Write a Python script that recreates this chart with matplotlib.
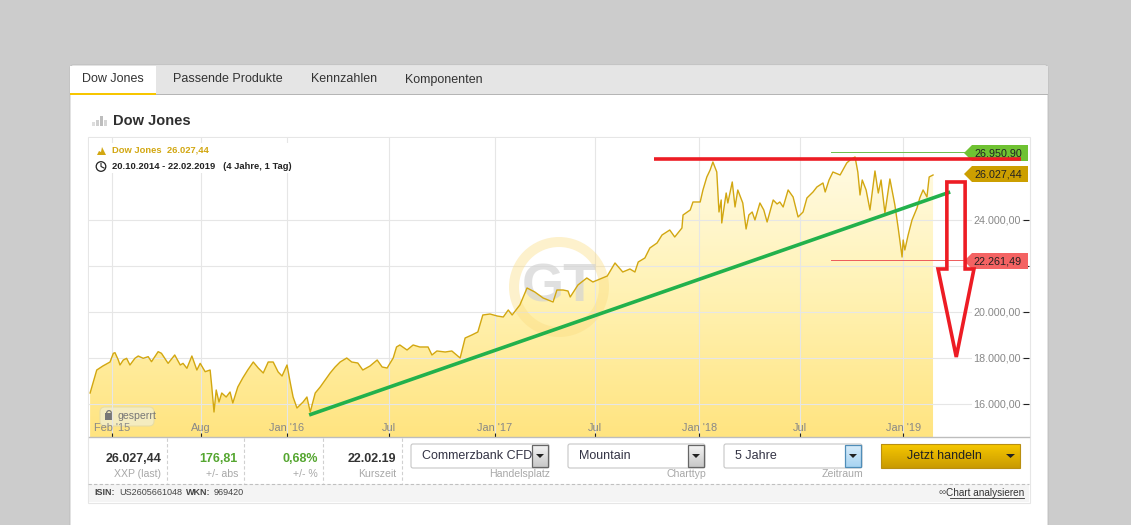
import numpy as np
import matplotlib
matplotlib.use("Agg")
import matplotlib.pyplot as plt
from matplotlib.colors import LinearSegmentedColormap
from matplotlib.patches import Rectangle, FancyBboxPatch, Polygon, Circle, Wedge

# ---------- data ----------
session_pos = [2,14,25,38,44,47,53,56,62,68,
    74,83,89,98,107,113,125,131,143,155,
    165,170,177,186,195,201,210,219,222,226,
    230,235,240,248,255,260,269,278,287,297,
    306,315,324,333,342,349,358,364,369,376,
    387,394,400,409,418,427,436,445,454,466,
    475,486,495,508,521,530,539,550,556,562,
    575,586,598,613,620,629,644,656,671,680,
    692,703,712,725,738,749,758,765,779,792,
    806,821,839,846,857,866,870,884,900,911,
    924,937,951,965,978,987,993,1005,1014,1027,
    1036,1050,1059,1072,1074,1087,1092,1105,1110,1117,
    1123,1128,1135,1139,1143,1144,1152,1155,1163,1168,
    1173,1182,1188,1193,1199,1204,1213,1220,1226,1231,
    1237,1244,1249,1255,1264,1273,1282,1291,1298,1309,
    1316,1327,1331,1338,1345,1358,1370,1376,1385,1390,
    1394,1398,1405,1412,1421,1427,1432,1439,1448,1457,
    1463,1470,1472,1475,1481,1488,1497,1502,1508,1515,
    1519,1526]
dow_close = [16478,17478,17652,17826,18204,18231,17913,17696,17913,17986,
    17696,17986,18087,17986,18058,17840,18275,18204,17768,18131,
    17696,17768,17552,18087,17478,17768,17405,17478,16753,15652,
    16609,16087,16478,16304,16522,16043,16739,17131,17478,17826,
    17565,17348,17826,17826,17391,17217,17696,16913,16304,15826,
    16087,16304,15652,16478,16739,17043,17348,17609,17826,18000,
    17826,17782,17478,17652,17913,17609,17565,18000,18479,18566,
    18348,18566,18479,18479,18131,18305,18261,18305,18000,18869,
    18999,19131,19870,19913,19826,19783,20087,19870,20305,21044,
    20870,20609,20435,20957,20957,20913,20652,21174,21479,21305,
    21435,21565,22131,21739,21870,21739,22174,22348,22783,23000,
    23348,23565,23261,23652,24217,24435,24783,24783,25305,25870,
    26174,26522,26087,24348,24870,23870,25174,24740,25653,24566,
    25305,24740,23609,24218,24348,24000,24740,24435,23913,24348,
    24870,24696,24783,24566,25305,25000,24131,24348,24957,25218,
    25435,25609,25218,25740,26087,25957,26479,26609,26740,26087,
    25087,25740,25305,24435,26131,25174,25740,24305,25783,24653,
    23652,22391,23131,22696,23348,24000,24522,24957,25305,25000,
    25870,25957]
x_tick_pos = [42,202,358,542,734,915,1103,1286,1472]
x_tick_labels = ["Feb '15","Aug","Jan '16","Jul","Jan '17","Jul","Jan '18","Jul","Jan '19"]
y_tick_vals = [16000,18000,20000,22000,24000]
y_tick_labels = ["16.000,00","18.000,00","20.000,00","","24.000,00"]
high_low_last = [26950.90, 22261.49, 26027.44]
resistance_x = [1021,1685]; resistance_y = [26653,26653]
trend_x = [398,1557]; trend_y = [15522,25218]
arrow_x = [1551,1584,1584,1600,1568,1535,1551]
arrow_y = [25653,25653,21870,21870,18044,21870,21870]

# ---------- figure ----------
plt.rcParams['font.family'] = ['Liberation Sans','DejaVu Sans']
W,H = 1131,525
fig = plt.figure(figsize=(W/100,H/100),dpi=100,facecolor='#cccccc')
bg = fig.add_axes([0,0,1,1]); bg.set_xlim(0,W); bg.set_ylim(H,0); bg.axis('off')
PT = 0.72

def rect(a,x0,y0,x1,y1,fc,ec='none',lw=0,z=1,**k):
    p = Rectangle((x0,y0),x1-x0,y1-y0,fc=fc,ec=ec,lw=lw,zorder=z,**k); a.add_patch(p); return p
def txt(x,y,s,size,color='#333333',ha='left',weight='normal',a=None,z=6,**k):
    return (a or bg).text(x,y,s,fontsize=size*PT,color=color,ha=ha,va='center',fontweight=weight,zorder=z,**k)
def grad(a,x0,y0,x1,y1,c0,c1,z=3):
    cm = LinearSegmentedColormap.from_list('g',[c0,c1])
    a.imshow(np.linspace(0,1,64).reshape(-1,1),extent=(x0,x1,y1,y0),cmap=cm,aspect='auto',zorder=z)

# panel and tabs
bg.add_patch(FancyBboxPatch((72,67),974,470,boxstyle='round,pad=2,rounding_size=3',fc='white',ec='#bbbbbb',lw=0.6,zorder=1))
rect(bg,71,66,1048,94,'#e5e5e5',z=2)
rect(bg,70,93.5,1048,94.5,'#b5b5b5',z=2)
rect(bg,70,66,156,94,'white',z=3)
rect(bg,70,92.5,156,94.5,'#f7c600',z=4)
for x,s in [(82,'Dow Jones'),(173,'Passende Produkte'),(311,'Kennzahlen'),(405,'Komponenten')]:
    txt(x,79.5,s,12.5,'#333333')
txt(113,121,'Dow Jones',14.6,'#2f2f2f',weight='bold')
for x,h,c in [(92,4,'#dddddd'),(96,6,'#cfcfcf'),(100,10,'#bdbdbd'),(104,6,'#d5d5d5')]:
    rect(bg,x,126-h,x+3,126,c,z=3)

# footer row
rect(bg,88,137,1030,503,'white',ec='#e6e6e6',lw=0.8,z=2)
rect(bg,89,484,1029,502,'#f4f4f4',z=3)
bg.plot([88,1029],[483.5,483.5],color='#c0c0c0',lw=0.8,ls=(0,(3,2)),zorder=4)
for x in [167,244,323,402]:
    bg.plot([x,x],[438,483],color='#d0d0d0',lw=0.8,ls=(0,(3,2)),zorder=4)
for x,v,l,c in [(161,'26.027,44','XXP (last)','#333333'),(238,'176,81','+/- abs','#55a630'),
                (318,'0,68%','+/- %','#55a630'),(396,'22.02.19','Kurszeit','#333333')]:
    txt(x,458.5,v,12.5,c,ha='right',weight='bold')
    txt(x,474,l,10.5,'#a8a8a8',ha='right')
for x,s,w in [(94,'ISIN:','bold'),(119,'US2605661048','normal'),(186,'WKN:','bold'),(214,'969420','normal')]:
    txt(x,492.5,s,9.0,'#444444',weight=w)
txt(1024,492.5,'Chart analysieren',10,'#333333',ha='right')
bg.plot([950,1024],[497.5,497.5],color='#333333',lw=0.6,zorder=6)
txt(942,492,'\u221e',10,'#555555',ha='center')

def select(x0,x1,s,cap,capx,c0='#f4f4f4',c1='#c8c8c8',edge='#666666'):
    bg.add_patch(FancyBboxPatch((x0+1,445),x1-x0-2,22,boxstyle='round,pad=1,rounding_size=2',fc='white',ec='#c6c6c6',lw=0.8,zorder=4))
    grad(bg,x1-17,445,x1-1,467,c0,c1,z=5)
    rect(bg,x1-17,445,x1-1,467,'none',ec=edge,lw=0.9,z=6)
    bg.add_patch(Polygon([(x1-13,454),(x1-5,454),(x1-9,458)],fc='#222222',zorder=7))
    txt(x0+11,456,s,12.5,'#333344')
    txt(capx,474,cap,10.5,'#a8a8a8',ha='right')
select(411,549,'Commerzbank CFD','Handelsplatz',550)
select(568,705,'Mountain','Charttyp',706)
select(724,862,'5 Jahre','Zeitraum',863,'#d8ecfa','#a8d4f2','#4f8db8')
grad(bg,881,444,1020,468,'#f7c800','#c99a00',z=4)
rect(bg,881,444,1020,468,'none',ec='#b98f10',lw=0.8,z=5)
txt(944,456,'Jetzt handeln',12.5,'#222222',ha='center')
bg.add_patch(Polygon([(1006,454),(1015,454),(1010.5,458)],fc='#222222',zorder=6))
bg.set_xlim(0,W); bg.set_ylim(H,0)

# ---------- chart ----------
X0,X1,Y0,Y1 = 89,1029,138,437
ax = fig.add_axes([X0/W,1-Y1/H,(X1-X0)/W,(Y1-Y0)/H],zorder=2,facecolor='white')
ax.set_xlim(0,1699.5); ax.set_ylim(14565,27565)
px = bg.transData
for s in ax.spines.values(): s.set_visible(False)
ax.spines['bottom'].set_visible(True); ax.spines['bottom'].set_color('#bdbdbd'); ax.spines['bottom'].set_linewidth(1)
ax.set_xticks(x_tick_pos); ax.set_xticklabels(x_tick_labels)
ax.yaxis.tick_right(); ax.set_yticks(y_tick_vals); ax.set_yticklabels(y_tick_labels)
ax.tick_params(axis='x',direction='in',length=3,width=0.8,color='#222222',pad=-10,labelsize=11*PT,labelcolor='#888888')
ax.tick_params(axis='y',direction='in',length=4,width=0.8,color='#222222',pad=-8*PT,labelsize=10.8*PT,labelcolor='#888888')
for t in ax.get_yticklabels():
    t.set_ha('right')
    if t.get_text():
        t.set_bbox(dict(fc='white',ec='none',pad=1))
ax.grid(True,color='#e6e6e6',lw=0.8); ax.set_axisbelow(True)

# area fill as vertical gradient (below the grid)
cm = LinearSegmentedColormap.from_list('f',['#fffbe6','#fff2b4','#ffe480'])
im = ax.imshow(np.linspace(0,1,256).reshape(-1,1),extent=(0,1699.5,14565,27000),cmap=cm,aspect='auto',zorder=0.2,origin='upper')
poly = Polygon(list(zip(session_pos,dow_close))+[(session_pos[-1],14565),(session_pos[0],14565)],transform=ax.transData,fc='none',ec='none')
ax.add_patch(poly); im.set_clip_path(poly)
ax.set_xlim(0,1699.5); ax.set_ylim(14565,27565)

# watermark
ax.add_patch(Wedge((559,287),50,0,360,width=10,transform=px,fc='#fbdc80',ec='none',alpha=0.4,zorder=3))
ax.text(559,288,'GT',transform=px,fontsize=39,fontweight='bold',family=['Liberation Sans Narrow','Liberation Sans'],
        color='#d4d4d4',alpha=0.7,ha='center',va='center',zorder=3)

ax.plot(session_pos,dow_close,color='#d2a711',lw=1.0,zorder=4,solid_joinstyle='round')

# high/low markers and badges
for v,c in [(high_low_last[0],'#6cc04a'),(high_low_last[1],'#ee5a5a')]:
    ax.plot([1342,1585],[v,v],color=c,lw=0.7,zorder=4)
for yc,c,s in [(153,'#6fc232','26.950,90'),(174,'#cc9f00','26.027,44'),(261,'#f46363','22.261,49')]:
    ax.add_patch(Polygon([(964,yc),(972,yc-8),(1028,yc-8),(1028,yc+8),(972,yc+8)],transform=px,fc=c,ec='none',zorder=5,clip_on=False))
    ax.text(1022,yc+0.5,s,transform=px,fontsize=10.8*PT,color='#222222',ha='right',va='center',zorder=6)

# legend block
rect(ax,93,143,297,173,'white',z=5,transform=px)
ax.add_patch(Polygon([(97,155),(99,151),(101,152),(102,147),(104,151),(106,155)],transform=px,fc='#d2a711',zorder=6))
ax.text(112,150.5,'Dow Jones  26.027,44',transform=px,fontsize=9.4*PT,fontweight='bold',color='#d2a711',va='center',zorder=6)
ax.add_patch(Circle((101,166.5),4.8,transform=px,fc='none',ec='#222222',lw=0.9,zorder=6))
ax.plot([101,101,104],[163.5,166.5,168],transform=px,color='#222222',lw=0.8,zorder=6)
ax.text(112,166.5,'20.10.2014 - 22.02.2019   (4 Jahre, 1 Tag)',transform=px,fontsize=9.4*PT,fontweight='bold',color='#222222',va='center',zorder=6)

# locked badge (under the axis labels)
ax.add_patch(FancyBboxPatch((101,408),52,17,boxstyle='round,pad=1,rounding_size=5',transform=px,fc='#f3edc6',ec='#e5dca8',lw=0.8,alpha=0.9,zorder=0.3))
rect(ax,105,413,113,420,'#777777',z=0.4,transform=px)
ax.add_patch(Wedge((109,413),3,180,360,width=1.3,transform=px,fc='#777777',ec='none',zorder=0.4))
ax.text(118,416,'gesperrt',transform=px,fontsize=10.5*PT,color='#777777',va='center',zorder=0.4)

# hand-drawn annotations
ax.plot(trend_x,trend_y,color='#22b14c',lw=2.6,zorder=8,solid_capstyle='butt')
ax.plot(resistance_x,resistance_y,color='#ed1c24',lw=2.6,zorder=8,solid_capstyle='butt')
ax.add_patch(Polygon(list(zip(arrow_x,arrow_y)),closed=True,fc='none',ec='#ed1c24',lw=2.6,zorder=8,joinstyle='miter'))

fig.savefig('out.png',dpi=100,facecolor=fig.get_facecolor())
